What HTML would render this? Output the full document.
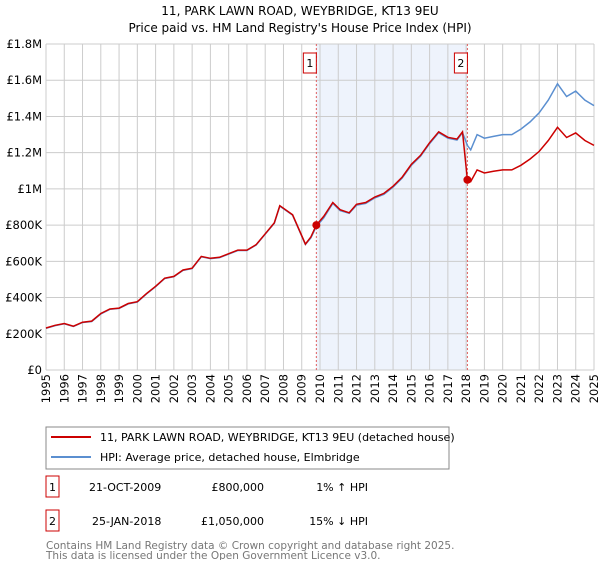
<!DOCTYPE html>
<html><head><meta charset="utf-8"><style>
body{margin:0;background:#fff;font-family:"Liberation Sans","DejaVu Sans",sans-serif;}
svg text{font-family:"DejaVu Sans","Liberation Sans",sans-serif;}
</style></head><body>
<svg id="c" width="600" height="560" xmlns="http://www.w3.org/2000/svg">
<text x="300" y="15" text-anchor="middle" font-size="12" fill="#000">11, PARK LAWN ROAD, WEYBRIDGE, KT13 9EU</text>
<text x="300" y="32" text-anchor="middle" font-size="12" fill="#000">Price paid vs. HM Land Registry's House Price Index (HPI)</text>
<g id="grid"></g><g id="series"></g><g id="axes"></g>
<g>
<rect x="46" y="427" width="403" height="42" fill="#fff" stroke="#888"/>
<line x1="51" y1="437" x2="91" y2="437" stroke="#cc0000" stroke-width="2"/>
<text x="100" y="441" font-size="11">11, PARK LAWN ROAD, WEYBRIDGE, KT13 9EU (detached house)</text>
<line x1="51" y1="457" x2="91" y2="457" stroke="#5b8fd0" stroke-width="2"/>
<text x="100" y="461" font-size="11">HPI: Average price, detached house, Elmbridge</text>
</g>
<g font-size="11">
<rect x="46" y="476" width="13" height="21" fill="#fff" stroke="#cc0000"/><text x="52.5" y="491" text-anchor="middle">1</text>
<text x="89" y="491">21-OCT-2009</text><text x="264" y="491" text-anchor="end">£800,000</text><text x="368" y="491" text-anchor="end">1% ↑ HPI</text>
<rect x="46" y="510" width="13" height="21" fill="#fff" stroke="#cc0000"/><text x="52.5" y="525" text-anchor="middle">2</text>
<text x="92" y="525">25-JAN-2018</text><text x="264" y="525" text-anchor="end">£1,050,000</text><text x="368" y="525" text-anchor="end">15% ↓ HPI</text>
</g>
<text x="46" y="549" font-size="10.5" fill="#777">Contains HM Land Registry data © Crown copyright and database right 2025.</text>
<text x="46" y="560" font-size="10.5" fill="#777" dy="-1">This data is licensed under the Open Government Licence v3.0.</text>
</svg>
<script>
const years=[1995,1995.5,1996,1996.5,1997,1997.5,1998,1998.5,1999,1999.5,2000,2000.5,2001,2001.5,2002,2002.5,2003,2003.5,2004,2004.5,2005,2005.5,2006,2006.5,2007,2007.5,2007.8,2008.5,2009.2,2009.5,2009.8,2010.2,2010.7,2011.1,2011.6,2012,2012.5,2013,2013.5,2014,2014.5,2015,2015.5,2016,2016.5,2017,2017.5,2017.8,2018.07,2018.25,2018.6,2019,2019.5,2020,2020.5,2021,2021.5,2022,2022.5,2023,2023.5,2024,2024.5,2025];
const hpi=[230,245,255,240,262,268,310,335,340,365,375,420,460,505,515,550,560,625,615,620,640,660,660,690,750,810,905,855,693,730,792,840,920,880,865,910,920,950,970,1010,1060,1130,1180,1250,1310,1280,1270,1310,1240,1215,1300,1280,1290,1300,1300,1330,1370,1420,1490,1580,1510,1540,1490,1460];
const price=[232,247,257,242,264,270,312,337,342,367,377,422,462,507,517,552,562,627,617,622,642,662,662,692,752,812,907,857,695,735,800,848,925,885,868,915,925,955,975,1015,1065,1135,1185,1255,1315,1285,1275,1315,1050,1040,1105,1088,1097,1105,1105,1130,1165,1207,1267,1340,1284,1309,1267,1240];
const yTicks=[0,200,400,600,800,1000,1200,1400,1600,1800];
const yLabels=["£0","£200K","£400K","£600K","£800K","£1M","£1.2M","£1.4M","£1.6M","£1.8M"];
const xTicks=[1995,1996,1997,1998,1999,2000,2001,2002,2003,2004,2005,2006,2007,2008,2009,2010,2011,2012,2013,2014,2015,2016,2017,2018,2019,2020,2021,2022,2023,2024,2025];
const sales=[{t:2009.8,v:800,n:"1"},{t:2018.07,v:1050,n:"2"}];
const X0=46,X1=594,Y0=370,Y1=44;
const sx=t=>X0+(t-1995)/30*(X1-X0);
const sy=v=>Y0-v/1800*(Y0-Y1);
const NS="http://www.w3.org/2000/svg";
function mk(tag,attrs,parent,txt){const e=document.createElementNS(NS,tag);for(const k in attrs)e.setAttribute(k,attrs[k]);if(txt!==undefined)e.textContent=txt;document.getElementById(parent).appendChild(e);return e;}
const shade=mk('rect',{x:sx(sales[0].t),y:Y1,width:sx(sales[1].t)-sx(sales[0].t),height:Y0-Y1,fill:'#eef3fc'},'grid');


yTicks.forEach((v,i)=>{
 const l=mk('line',{x1:X0,x2:X1,y1:sy(v),y2:sy(v),stroke:'#ccc'},'grid');
 
 
 const t=mk('text',{x:X0-4,y:sy(v)+4,'text-anchor':'end','font-size':'11.5'},'axes',yLabels[i]);
 
 
});
xTicks.forEach(y=>{
 const l=mk('line',{x1:sx(y),x2:sx(y),y1:Y1,y2:Y0,stroke:'#ccc'},'grid');
 
 
 const t=mk('text',{x:0,y:0,'text-anchor':'end','font-size':'11.5',transform:`translate(${sx(y)+4},${Y0+4}) rotate(-90)`},'axes',String(y));
 
 
});
sales.forEach(s=>{
 const l=mk('line',{x1:sx(s.t),x2:sx(s.t),y1:Y1,y2:Y0,stroke:'#e06060','stroke-dasharray':'2,2'},'grid');
 
 
 const r=mk('rect',{x:sx(s.t)-13,y:53,width:13,height:20,fill:'#fff',stroke:'#cc0000'},'axes');
 
 
 const t=mk('text',{x:sx(s.t)-6.5,y:67,'text-anchor':'middle','font-size':'11'},'axes',s.n);
 
 
});
const pts=a=>a.map((v,i)=>sx(years[i]).toFixed(1)+','+sy(v).toFixed(1)).join(' ');
const h=mk('polyline',{points:pts(hpi),fill:'none',stroke:'#5b8fd0','stroke-width':'1.5'},'series');


const p=mk('polyline',{points:pts(price),fill:'none',stroke:'#cc0000','stroke-width':'1.5'},'series');


sales.forEach(s=>{
 const c=mk('circle',{cx:sx(s.t),cy:sy(s.v),r:4,fill:'#cc0000'},'series');
 
 
});
</script>
</body></html>
